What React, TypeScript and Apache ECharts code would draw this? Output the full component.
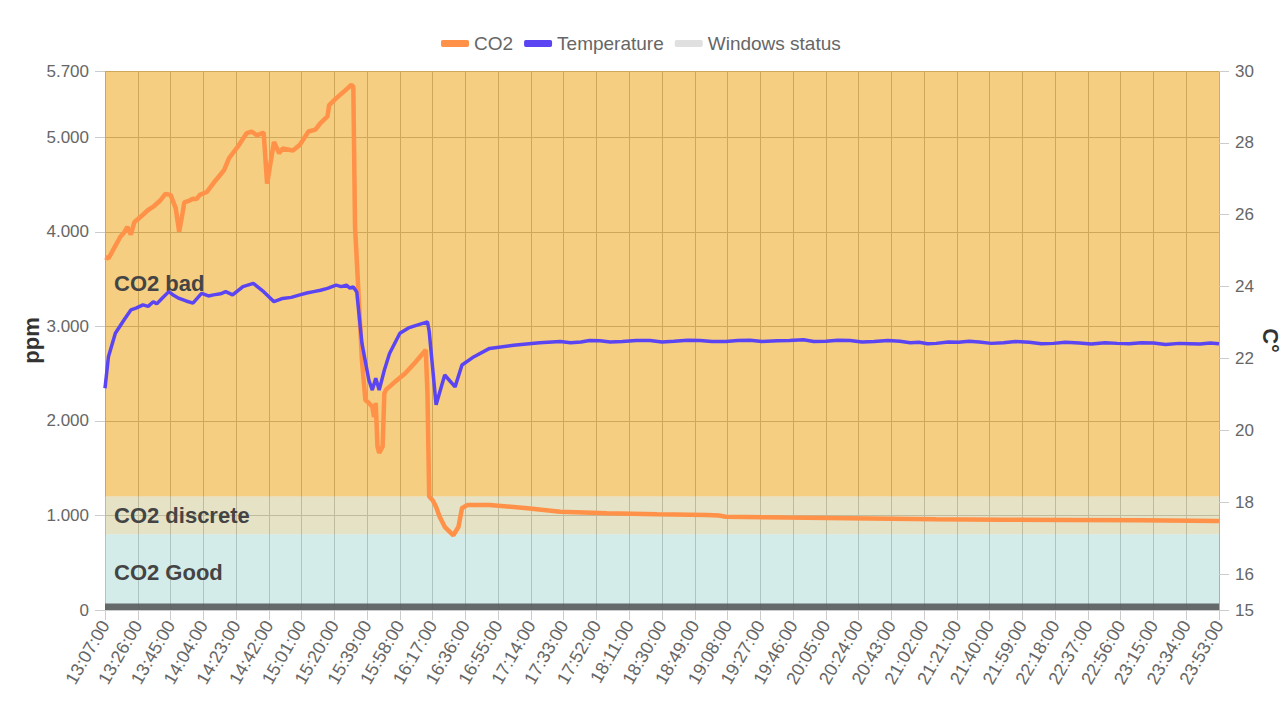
import React, { useEffect, useRef } from "react";
import * as echarts from "echarts";

// ---- data ----
// x categories: one per minute, 13:07:00 .. 23:53:00
const START_MIN = 13 * 60 + 7;
const END_MIN = 23 * 60 + 53;
const pad = (n: number) => (n < 10 ? "0" + n : String(n));
const TIME_LABELS: string[] = [];
for (let m = START_MIN; m <= END_MIN; m++) {
  TIME_LABELS.push(`${pad(Math.floor(m / 60))}:${pad(m % 60)}:00`);
}

// [category index, ppm]
const CO2_POINTS: [number, number][] = [
  [0, 3730], [2, 3720], [3, 3750], [6, 3850], [9, 3950], [11, 3990], [13, 4050], [15, 3970], [17, 4100],
  [22, 4180], [25, 4230], [28, 4265], [32, 4330], [35, 4400], [38, 4390], [41, 4250], [43, 4000],
  [45, 4200], [46, 4310], [49, 4330], [51, 4350], [53, 4345], [55, 4390], [59, 4420], [64, 4540], [69, 4650],
  [72, 4780], [77, 4900], [82, 5040], [85, 5060], [88, 5020], [92, 5050], [94, 4510],
  [98, 4950], [101, 4830], [103, 4880], [109, 4860], [113, 4920], [118, 5060],
  [122, 5080], [125, 5150], [129, 5220], [130, 5340], [134, 5410], [139, 5490],
  [143, 5555], [144, 5530], [145, 4050], [147, 3350], [149, 2640], [151, 2220],
  [153, 2190], [155, 2150], [156, 2040], [157, 2190], [158, 1730], [159, 1660],
  [161, 1730], [162, 2290], [163, 2330], [168, 2410], [174, 2500], [180, 2620],
  [186, 2750], [187, 2290], [188, 1200], [190, 1160], [192, 1090], [194, 990],
  [197, 880], [202, 790], [205, 880], [207, 1076], [210, 1110], [223, 1110],
  [245, 1076], [264, 1040], [291, 1022], [320, 1012], [349, 1005], [356, 1000],
  [360, 987], [395, 978], [431, 970], [482, 959], [520, 955], [558, 952],
  [600, 948], [645, 941], [646, 940],
];

// [category index, °C]
const TEMP_POINTS: [number, number][] = [
  [0, 21.17], [2, 22.05], [6, 22.7], [11, 23.07], [15, 23.35], [18, 23.4], [22, 23.49],
  [25, 23.45], [28, 23.58], [30, 23.52], [33, 23.67], [37, 23.86], [40, 23.75], [43, 23.67],
  [47, 23.6], [51, 23.54], [56, 23.81], [60, 23.74], [63, 23.77], [67, 23.8],
  [70, 23.86], [74, 23.77], [80, 24.0], [86, 24.09], [92, 23.86], [98, 23.58],
  [103, 23.67], [108, 23.7], [113, 23.77], [117, 23.82], [121, 23.86], [125, 23.9],
  [129, 23.95], [134, 24.04], [137, 24.0], [140, 24.04], [142, 23.96], [144, 23.99], [146, 23.85],
  [149, 22.42], [153, 21.4], [155, 21.12], [157, 21.45], [159, 21.12], [162, 21.68],
  [165, 22.14], [171, 22.7], [176, 22.85], [181, 22.93], [187, 23.02], [188, 22.75],
  [192, 20.71], [197, 21.54], [203, 21.21], [207, 21.82], [214, 22.05], [223, 22.28],
  [237, 22.37], [252, 22.44], [264, 22.47], [270, 22.44], [276, 22.46], [281, 22.5], [287, 22.49],
  [293, 22.46], [300, 22.47], [308, 22.5], [316, 22.5], [323, 22.46], [330, 22.48], [338, 22.51],
  [345, 22.5], [352, 22.47], [360, 22.47], [367, 22.5], [374, 22.51], [381, 22.47], [390, 22.49],
  [397, 22.5], [405, 22.52], [411, 22.47], [418, 22.48], [425, 22.51], [432, 22.5], [439, 22.46],
  [446, 22.47], [454, 22.5], [461, 22.48], [467, 22.44], [472, 22.45], [477, 22.41],
  [482, 22.42], [489, 22.46], [495, 22.45], [501, 22.48], [507, 22.46], [514, 22.42], [521, 22.44],
  [528, 22.47], [536, 22.45], [543, 22.41], [550, 22.42], [557, 22.45], [565, 22.43], [572, 22.4],
  [580, 22.44], [587, 22.42], [594, 22.41], [601, 22.44], [608, 22.43], [615, 22.39], [623, 22.42],
  [629, 22.41], [635, 22.4], [641, 22.43], [646, 22.41],
];

const WINDOWS_STATUS: [number, number][] = [[0, 70], [646, 70]];

const ZONES = [
  { name: "CO2 bad", from: 1200, to: 5700, color: "rgba(235,157,5,0.5)" },
  { name: "CO2 discrete", from: 800, to: 1200, color: "rgba(203,197,141,0.5)" },
  { name: "CO2 Good", from: 0, to: 800, color: "rgba(169,217,211,0.5)" },
];

const PPM_TICKS = [0, 1000, 2000, 3000, 4000, 5000, 5700];
const TEMP_TICKS = [15, 16, 18, 20, 22, 24, 26, 28, 30];

const FONT = "'Liberation Sans', Arial, sans-serif";
const fmtThousands = (v: number) =>
  String(v).replace(/\B(?=(\d{3})+(?!\d))/g, ".");

export default function App() {
  const ref = useRef<HTMLDivElement>(null);

  useEffect(() => {
    document.body.style.margin = "0";
    document.body.style.overflow = "hidden";
    if (!ref.current) return;
    const chart = echarts.init(ref.current, null, { renderer: "svg", width: 1283, height: 716 });
    chart.setOption({
      animation: false,
      backgroundColor: "#ffffff",
      textStyle: { fontFamily: FONT },
      legend: {
        left: 436,
        top: 29,
        icon: "roundRect",
        itemWidth: 28,
        itemHeight: 7,
        itemGap: 11,
        textStyle: { fontSize: 19, color: "#666", fontFamily: FONT },
        data: [
          { name: "CO2" },
          { name: "Temperature" },
          { name: "Windows status", itemStyle: { color: "#e0e0e0" } },
        ],
      },
      grid: { left: 105, right: 64, top: 71, bottom: 106, outerBoundsMode: "none", containLabel: false },
      xAxis: {
        type: "category",
        data: TIME_LABELS,
        boundaryGap: false,
        axisLine: { show: true, lineStyle: { color: "#ccc" } },
        axisTick: { show: true, interval: 18, length: 10, lineStyle: { color: "#ccc" } },
        axisLabel: {
          interval: 18,
          rotate: 60,
          fontSize: 18,
          color: "#666",
          margin: 12,
          fontFamily: FONT,
        },
        splitLine: { show: true, interval: 18, lineStyle: { color: "#b0b0b0", width: 1 } },
      },
      yAxis: [
        {
          type: "value",
          min: 0,
          max: 5700,
          interval: 1000,
          name: "ppm",
          nameLocation: "middle",
          nameGap: 63,
          nameRotate: 90,
          nameMoveOverlap: false,
          nameTextStyle: { fontSize: 22, fontWeight: "bold", color: "#333", fontFamily: FONT },
          axisLine: { show: false },
          axisTick: { show: true, length: 10, lineStyle: { color: "#ccc" }, customValues: PPM_TICKS },
          axisLabel: {
            fontSize: 17,
            color: "#666",
            margin: 16,
            customValues: PPM_TICKS,
            formatter: (v: number) => fmtThousands(v),
            fontFamily: FONT,
          },
          splitLine: { show: true, lineStyle: { color: "#b0b0b0", width: 1 } },
        },
        {
          type: "value",
          min: 15,
          max: 30,
          interval: 1,
          name: "C°",
          nameLocation: "middle",
          nameGap: 40,
          nameRotate: -90,
          nameMoveOverlap: false,
          nameTextStyle: { fontSize: 22, fontWeight: "bold", color: "#333", fontFamily: FONT },
          axisLine: { show: false },
          axisTick: { show: true, length: 10, lineStyle: { color: "#ccc" }, customValues: TEMP_TICKS },
          axisLabel: {
            fontSize: 17,
            color: "#666",
            margin: 16,
            customValues: TEMP_TICKS,
            fontFamily: FONT,
          },
          splitLine: { show: false },
        },
      ],
      series: [
        {
          name: "Windows status",
          type: "line",
          yAxisIndex: 0,
          z: 1,
          data: WINDOWS_STATUS,
          symbol: "none",
          itemStyle: { color: "#e0e0e0" },
          lineStyle: { width: 0 },
          areaStyle: { color: "rgba(80,84,84,0.85)", opacity: 1 },
          markArea: {
            silent: true,
            label: {
              show: true,
              position: "insideLeft",
              distance: 9,
              fontSize: 22,
              fontWeight: "bold",
              color: "#444",
              fontFamily: FONT,
            },
            data: ZONES.map((z) => [
              { name: z.name, yAxis: z.from, itemStyle: { color: z.color } },
              { yAxis: z.to },
            ]),
          },
        },
        {
          name: "CO2",
          type: "line",
          yAxisIndex: 0,
          z: 3,
          data: CO2_POINTS,
          symbol: "none",
          itemStyle: { color: "#ff9148" },
          lineStyle: { width: 4.5, color: "#ff9148" },
        },
        {
          name: "Temperature",
          type: "line",
          yAxisIndex: 1,
          z: 4,
          data: TEMP_POINTS,
          symbol: "none",
          itemStyle: { color: "#5b45f2" },
          lineStyle: { width: 3.5, color: "#5b45f2" },
        },
      ],
    });
    return () => chart.dispose();
  }, []);

  return (
    <div
      ref={ref}
      style={{ position: "fixed", left: 0, top: 0, width: 1283, height: 716 }}
    />
  );
}
